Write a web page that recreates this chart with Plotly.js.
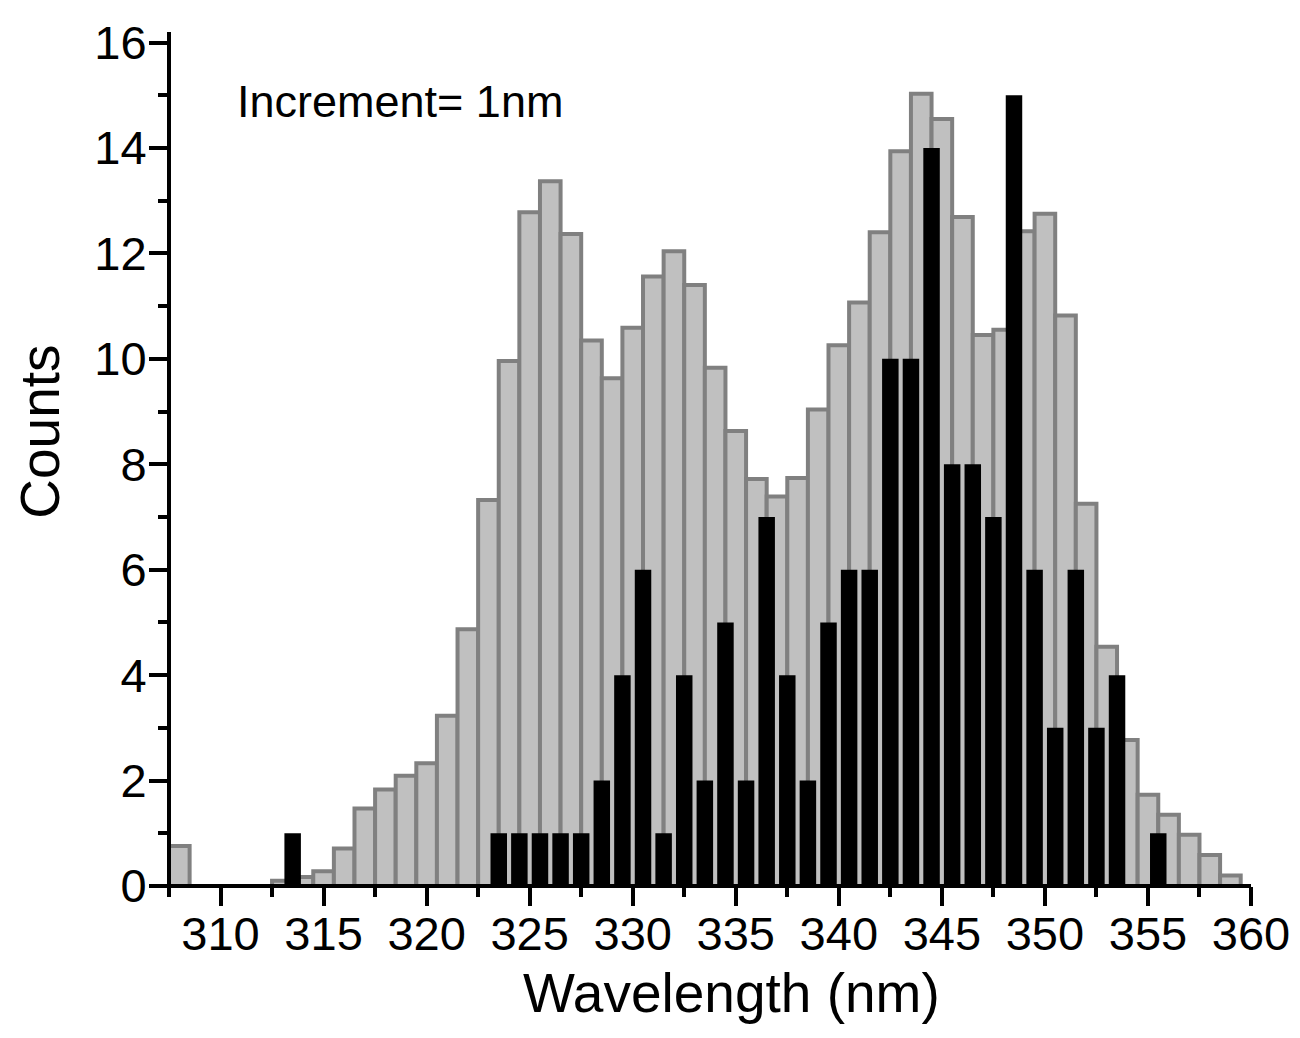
<!DOCTYPE html>
<html>
<head>
<meta charset="utf-8">
<script src="https://cdn.plot.ly/plotly-3.0.1.min.js"></script>
<style>
  html, body { margin: 0; padding: 0; background: #ffffff; }
  #chart { width: 1300px; height: 1038px; }
</style>
</head>
<body>
<div id="chart"></div>
<script>
// Gray histogram (all data), bins centred on integer wavelengths
const grayWavelengths = [308, 309, 310, 311, 312, 313, 314, 315, 316, 317, 318, 319, 320, 321, 322, 323, 324, 325, 326, 327, 328, 329, 330, 331, 332, 333, 334, 335, 336, 337, 338, 339, 340, 341, 342, 343, 344, 345, 346, 347, 348, 349, 350, 351, 352, 353, 354, 355, 356, 357, 358, 359];
const grayCounts = [0.76, 0, 0, 0, 0, 0.10, 0.17, 0.28, 0.71, 1.47, 1.83, 2.09, 2.33, 3.23, 4.87, 7.32, 9.96, 12.78, 13.37, 12.37, 10.35, 9.63, 10.59, 11.56, 12.04, 11.40, 9.83, 8.63, 7.72, 7.39, 7.74, 9.04, 10.26, 11.07, 12.40, 13.94, 15.03, 14.55, 12.69, 10.45, 10.55, 12.42, 12.75, 10.82, 7.25, 4.54, 2.77, 1.73, 1.35, 0.97, 0.59, 0.20];

// Black histogram, bins centred on half-integer wavelengths
const blackWavelengths = [313.5, 323.5, 324.5, 325.5, 326.5, 327.5, 328.5, 329.5, 330.5, 331.5, 332.5, 333.5, 334.5, 335.5, 336.5, 337.5, 338.5, 339.5, 340.5, 341.5, 342.5, 343.5, 344.5, 345.5, 346.5, 347.5, 348.5, 349.5, 350.5, 351.5, 352.5, 353.5, 355.5];
const blackCounts = [1, 1, 1, 1, 1, 1, 2, 4, 6, 1, 4, 2, 5, 2, 7, 4, 2, 5, 6, 6, 10, 10, 14, 8, 8, 7, 15, 6, 3, 6, 3, 4, 1];

const xTickVals = [310, 315, 320, 325, 330, 335, 340, 345, 350, 355, 360];
const yTickVals = [0, 2, 4, 6, 8, 10, 12, 14, 16];

const FONT = "'Liberation Sans', Arial, Helvetica, sans-serif";

const traces = [
  {
    type: 'bar',
    x: grayWavelengths,
    y: grayCounts,
    width: 1,
    marker: { color: '#c0c0c0', line: { color: '#808080', width: 4 } },
    hoverinfo: 'x+y',
    showlegend: false
  },
  {
    type: 'bar',
    x: blackWavelengths,
    y: blackCounts,
    width: 0.8,
    marker: { color: '#000000', line: { width: 0 } },
    hoverinfo: 'x+y',
    showlegend: false
  }
];

const layout = {
  width: 1300,
  height: 1038,
  margin: { l: 169, r: 49, t: 32, b: 152, pad: 0 },
  paper_bgcolor: '#ffffff',
  plot_bgcolor: '#ffffff',
  barmode: 'overlay',
  font: { family: FONT, color: '#000000' },
  xaxis: {
    range: [307.5, 360],
    showgrid: false,
    zeroline: false,
    showline: false,
    ticks: 'outside',
    ticklen: 19,
    tickwidth: 4,
    tickcolor: '#000000',
    tickvals: xTickVals,
    ticktext: xTickVals.map(String),
    tickfont: { family: FONT, size: 47, color: '#000000' },
    ticklabelstandoff: -12,
    minor: { dtick: 2.5, tick0: 307.5, ticks: 'outside', ticklen: 10, tickwidth: 4, tickcolor: '#000000', showgrid: false },
    automargin: false
  },
  yaxis: {
    range: [0, 16.2],
    showgrid: false,
    zeroline: false,
    showline: false,
    ticks: 'outside',
    ticklen: 19,
    tickwidth: 4,
    tickcolor: '#000000',
    tickvals: yTickVals,
    ticktext: yTickVals.map(String),
    tickfont: { family: FONT, size: 47, color: '#000000' },
    ticklabelstandoff: -7,
    minor: { dtick: 1, ticks: 'outside', ticklen: 10, tickwidth: 4, tickcolor: '#000000', showgrid: false },
    automargin: false
  },
  shapes: [
    // x axis line (drawn over the bar bases, as in the original)
    { type: 'line', xref: 'paper', yref: 'paper', x0: -0.002, x1: 1, y0: 0, y1: 0,
      line: { color: '#000000', width: 4 }, layer: 'above' },
    // y axis line
    { type: 'line', xref: 'paper', yref: 'paper', x0: 0, x1: 0, y0: -0.002, y1: 1,
      line: { color: '#000000', width: 4 }, layer: 'above' }
  ],
  annotations: [
    {
      x: 310.7, y: 14.88, xref: 'x', yref: 'y',
      xanchor: 'left', yanchor: 'middle',
      text: 'Increment= 1nm',
      showarrow: false,
      font: { family: FONT, size: 45, color: '#000000' }
    },
    {
      x: 0.5203, y: -0.125, xref: 'paper', yref: 'paper',
      xanchor: 'center', yanchor: 'middle',
      text: 'Wavelength (nm)',
      showarrow: false,
      font: { family: FONT, size: 55, color: '#000000' }
    },
    {
      x: -0.1192, y: 0.532, xref: 'paper', yref: 'paper',
      xanchor: 'center', yanchor: 'middle',
      text: 'Counts',
      textangle: -90,
      showarrow: false,
      font: { family: FONT, size: 55, color: '#000000' }
    }
  ]
};

Plotly.newPlot('chart', traces, layout, { displayModeBar: false, staticPlot: true });
</script>
</body>
</html>
